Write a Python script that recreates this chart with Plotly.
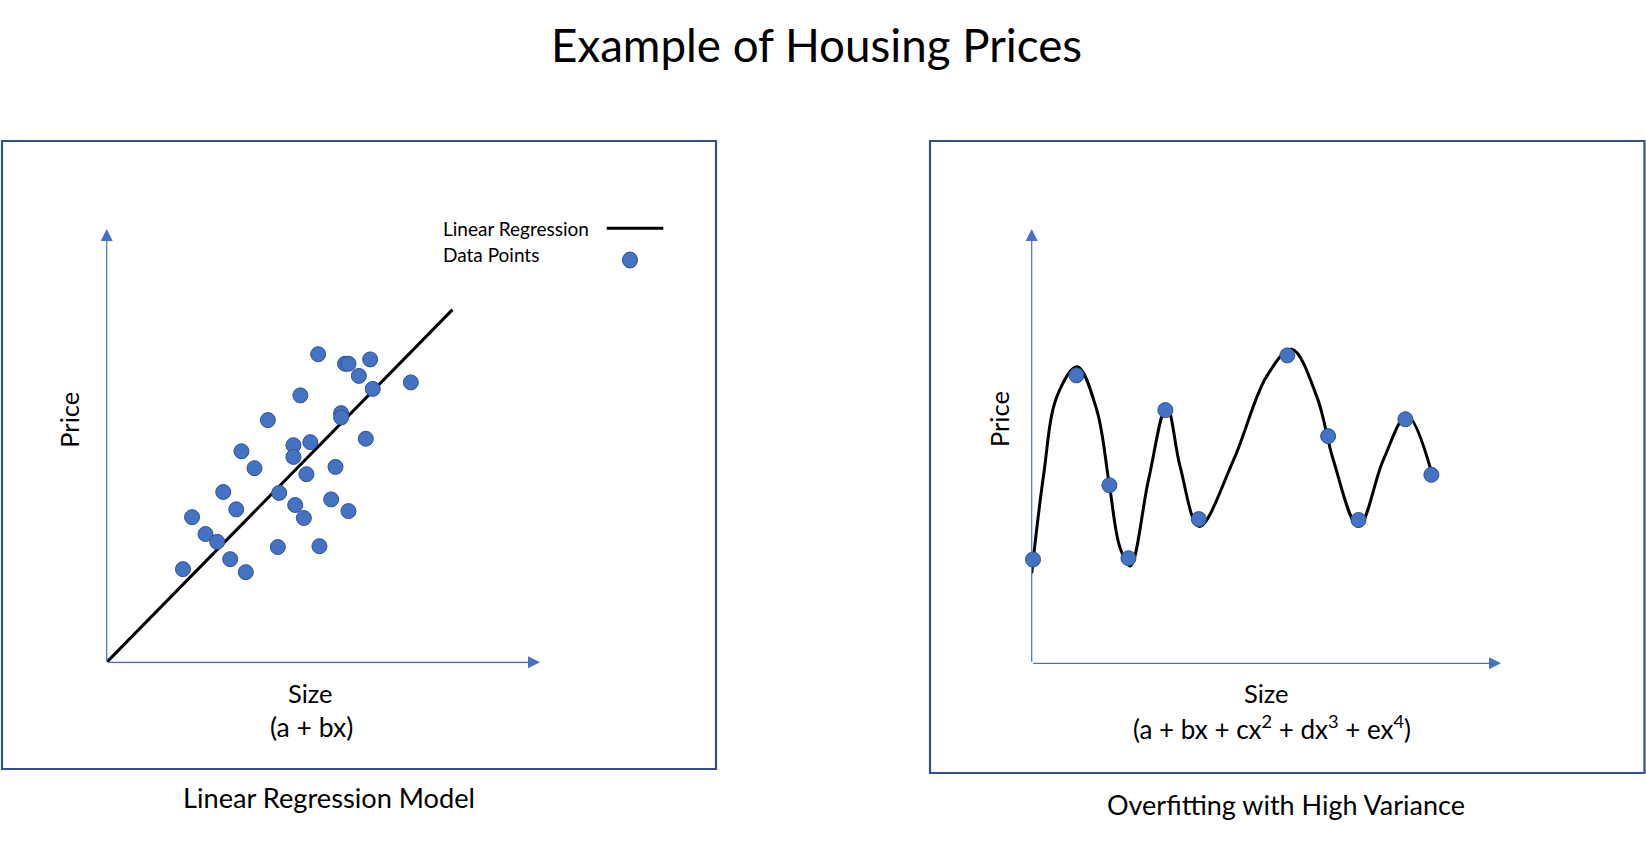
import plotly.graph_objects as go

W, H = 1646, 841

# ---------------- data (arbitrary units: Size, Price) ----------------
# Left panel: scatter of houses + linear regression line
lin_size = [4.88, 5.50, 5.58, 6.08, 5.82, 6.14, 7.02, 4.47, 5.41, 5.41, 3.72,
            5.98, 4.31, 4.70, 4.31, 3.11, 3.41, 4.61, 5.28, 3.98, 2.69, 2.99,
            4.35, 5.18, 5.58, 4.55, 1.97, 2.28, 2.55, 3.95, 4.91, 2.85, 1.76, 3.21]
lin_price = [7.11, 6.89, 6.89, 6.99, 6.61, 6.31, 6.46, 6.16, 5.75, 5.65, 5.59,
             5.16, 5.01, 5.08, 4.74, 4.87, 4.48, 4.34, 4.51, 3.91, 3.93, 3.53,
             3.63, 3.76, 3.49, 3.33, 3.35, 2.96, 2.78, 2.66, 2.68, 2.38, 2.15, 2.08]
reg_size = [0.0, 7.98]
reg_price = [0.0, 8.14]

# Right panel: few points + overfitted curve
over_size = [0.03, 1.03, 1.79, 2.23, 3.08, 3.85, 5.89, 6.83, 7.53, 8.61, 9.21]
over_price = [2.39, 6.63, 4.10, 2.42, 5.83, 3.32, 7.09, 5.23, 3.30, 5.62, 4.34]
curve_size = [0.00, 0.27, 0.58, 1.05, 1.50, 1.79, 2.03, 2.27, 2.69, 3.11, 3.42,
              3.86, 4.65, 5.41, 5.99, 6.57, 6.95, 7.53, 8.10, 8.65, 9.21]
curve_price = [2.07, 4.30, 6.14, 6.83, 5.83, 4.10, 2.68, 2.24, 4.22, 5.92, 4.53,
               3.15, 4.68, 6.60, 7.23, 6.14, 4.68, 3.15, 4.68, 5.70, 4.41]

title_text = "Example of Housing Prices"
left_caption = "Linear Regression Model"
right_caption = "Overfitting with High Variance"
legend_labels = ["Linear Regression", "Data Points"]
x_label = "Size"
y_label = "Price"
left_formula = "(a + bx)"
right_formula = "(a + bx + cx<sup>2</sup> + dx<sup>3</sup> + ex<sup>4</sup>)"

# ---------------- styles ----------------
FONT = "Lato"
PT_FILL = "#4472C4"
PT_EDGE = "#2F528F"
AX_COL = "#4472C4"
BOX_COL = "#2F528F"


def px(x):
    return x / W


def py(y):
    return 1 - y / H


fig = go.Figure()

marker = dict(size=15, color=PT_FILL, line=dict(color=PT_EDGE, width=1))

fig.add_trace(go.Scatter(x=reg_size, y=reg_price, mode="lines",
                         line=dict(color="black", width=3),
                         xaxis="x", yaxis="y", cliponaxis=False, hoverinfo="skip"))
fig.add_trace(go.Scatter(x=lin_size, y=lin_price, mode="markers", marker=marker,
                         xaxis="x", yaxis="y", cliponaxis=False))
fig.add_trace(go.Scatter(x=curve_size, y=curve_price, mode="lines",
                         line=dict(color="black", width=3, shape="spline", smoothing=1.0),
                         xaxis="x2", yaxis="y2", cliponaxis=False, hoverinfo="skip"))
fig.add_trace(go.Scatter(x=over_size, y=over_price, mode="markers", marker=marker,
                         xaxis="x2", yaxis="y2", cliponaxis=False))

ax_common = dict(visible=False, fixedrange=True)

# panel geometry (pixels)
L_ox, L_oy, L_tx, L_ty = 106.7, 662.3, 540.0, 229.0
R_ox, R_oy, R_tx, R_ty = 1031.7, 663.3, 1501.0, 229.0
L_xmax, L_ymax = 10.0, 10.0
R_xmax, R_ymax = (R_tx - R_ox) / 43.4, 10.0

layout = dict(
    width=W, height=H, autosize=False,
    margin=dict(l=0, r=0, t=0, b=0),
    paper_bgcolor="white", plot_bgcolor="rgba(0,0,0,0)",
    showlegend=False,
    xaxis=dict(domain=[px(L_ox), px(L_tx)], range=[0, L_xmax], anchor="y", **ax_common),
    yaxis=dict(domain=[py(L_oy), py(L_ty)], range=[0, L_ymax], anchor="x", **ax_common),
    xaxis2=dict(domain=[px(R_ox), px(R_tx)], range=[0, R_xmax], anchor="y2", **ax_common),
    yaxis2=dict(domain=[py(R_oy), py(R_ty)], range=[0, R_ymax], anchor="x2", **ax_common),
)
fig.update_layout(**layout)

shapes = []
# panel frames
shapes.append(dict(type="rect", xref="paper", yref="paper",
                   x0=px(2), x1=px(716), y0=py(769), y1=py(141),
                   line=dict(color=BOX_COL, width=2.2)))
shapes.append(dict(type="rect", xref="paper", yref="paper",
                   x0=px(930), x1=px(1644.5), y0=py(773), y1=py(141),
                   line=dict(color=BOX_COL, width=2.2)))
# legend symbols
shapes.append(dict(type="line", xref="paper", yref="paper",
                   x0=px(606.7), x1=px(663.3), y0=py(228.3), y1=py(228.3),
                   line=dict(color="black", width=3)))
shapes.append(dict(type="circle", xref="paper", yref="paper",
                   x0=px(622.5), x1=px(637.5), y0=py(268), y1=py(252),
                   fillcolor=PT_FILL, line=dict(color=PT_EDGE, width=1)))
fig.update_layout(shapes=shapes)

ann = []


def text(t, x, baseline, size, xanchor="center", angle=0):
    yc = baseline - 0.387 * size
    ann.append(dict(text=t, x=px(x), y=py(yc), xref="paper", yref="paper",
                    xanchor=xanchor, yanchor="middle", showarrow=False,
                    textangle=angle, font=dict(family=FONT, size=size, color="black")))


text(title_text, 816, 61.7, 45.7)
text(legend_labels[0], 440.7, 236, 19, xanchor="left")
text(legend_labels[1], 440.7, 261.7, 19, xanchor="left")
text(x_label, 310, 702.7, 25.5)
text(left_formula, 311.3, 737, 26.5)
text(x_label, 1266, 702.7, 25.5)
text(right_formula, 1272, 738, 26)
text(left_caption, 328.6, 808, 27.2)
text(right_caption, 1286, 815, 27)
for xc, yc in [(68.7, 420), (999, 419)]:
    ann.append(dict(text=y_label, x=px(xc), y=py(yc), xref="paper", yref="paper",
                    xanchor="center", yanchor="middle", showarrow=False, textangle=-90,
                    font=dict(family=FONT, size=25.5, color="black")))

# axis arrows (drawn in data coordinates of each panel)
for xr, yr, xmax, ymax in [("x", "y", L_xmax, L_ymax), ("x2", "y2", R_xmax, R_ymax)]:
    for (x, y) in [(xmax, 0), (0, ymax)]:
        ann.append(dict(text="", x=x, y=y, ax=0, ay=0, xref=xr, yref=yr,
                        axref=xr, ayref=yr, showarrow=True, arrowhead=2,
                        arrowsize=2.0, arrowwidth=1.2, arrowcolor=AX_COL, standoff=0))
fig.update_layout(annotations=ann)

fig.write_html("out.html")
